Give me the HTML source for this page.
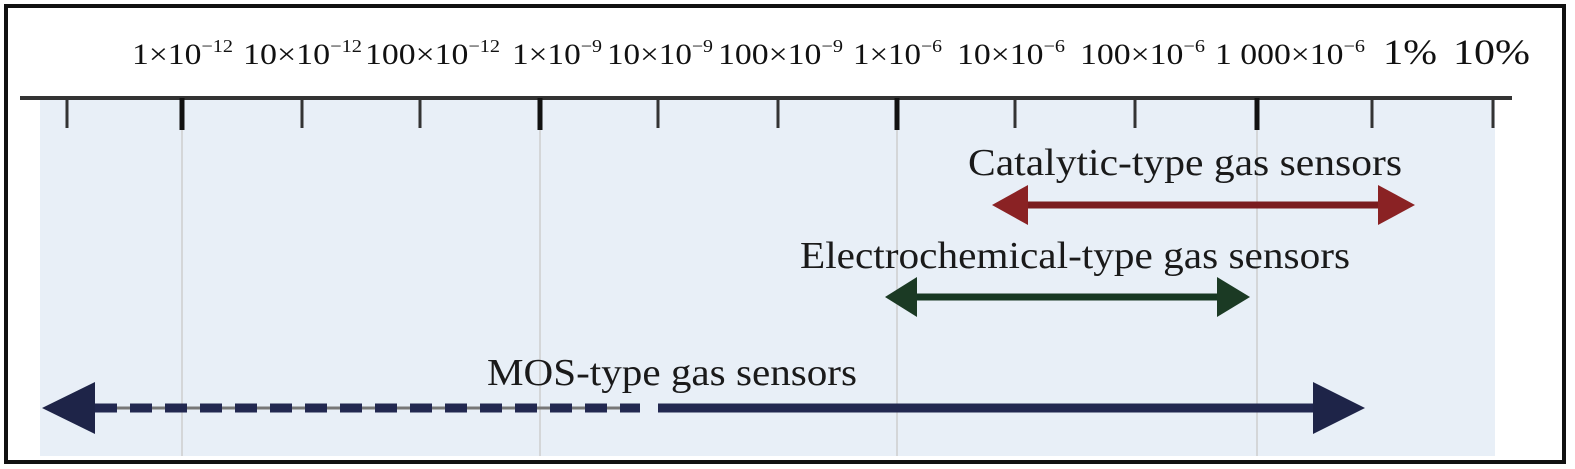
<!DOCTYPE html>
<html><head><meta charset="utf-8"><style>
html,body{margin:0;padding:0;background:#fff;}
svg{display:block;font-family:"Liberation Serif",serif;}
</style></head><body>
<svg width="1575" height="469" viewBox="0 0 1575 469" xmlns="http://www.w3.org/2000/svg">
<rect x="0" y="0" width="1575" height="469" fill="#fff"/>
<rect x="40" y="100" width="1455" height="356" fill="#e8eff7"/>
<g stroke="#d4d6d8" stroke-width="2">
<line x1="182" y1="100" x2="182" y2="456"/><line x1="540" y1="100" x2="540" y2="456"/>
<line x1="897" y1="100" x2="897" y2="456"/><line x1="1257" y1="100" x2="1257" y2="456"/>
</g>
<line x1="20" y1="98" x2="1512" y2="98" stroke="#333" stroke-width="4"/>
<g stroke="#333" stroke-width="3">
<line x1="67" y1="98" x2="67" y2="128"/><line x1="302" y1="98" x2="302" y2="128"/>
<line x1="420" y1="98" x2="420" y2="128"/><line x1="658" y1="98" x2="658" y2="128"/>
<line x1="778" y1="98" x2="778" y2="128"/><line x1="1015" y1="98" x2="1015" y2="128"/>
<line x1="1135" y1="98" x2="1135" y2="128"/><line x1="1372" y1="98" x2="1372" y2="128"/>
<line x1="1493" y1="98" x2="1493" y2="128"/>
</g>
<g stroke="#111" stroke-width="5">
<line x1="182" y1="98" x2="182" y2="130"/><line x1="540" y1="98" x2="540" y2="130"/>
<line x1="897" y1="98" x2="897" y2="130"/><line x1="1257" y1="98" x2="1257" y2="130"/>
</g>
<g font-size="30" fill="#111" lengthAdjust="spacingAndGlyphs">
<text x="132" y="64" textLength="101" lengthAdjust="spacingAndGlyphs">1×10<tspan font-size="18" dy="-12">−12</tspan></text>
<text x="243" y="64" textLength="119" lengthAdjust="spacingAndGlyphs">10×10<tspan font-size="18" dy="-12">−12</tspan></text>
<text x="365" y="64" textLength="135" lengthAdjust="spacingAndGlyphs">100×10<tspan font-size="18" dy="-12">−12</tspan></text>
<text x="512" y="64" textLength="90" lengthAdjust="spacingAndGlyphs">1×10<tspan font-size="18" dy="-12">−9</tspan></text>
<text x="607" y="64" textLength="106" lengthAdjust="spacingAndGlyphs">10×10<tspan font-size="18" dy="-12">−9</tspan></text>
<text x="718" y="64" textLength="125" lengthAdjust="spacingAndGlyphs">100×10<tspan font-size="18" dy="-12">−9</tspan></text>
<text x="853" y="64" textLength="89" lengthAdjust="spacingAndGlyphs">1×10<tspan font-size="18" dy="-12">−6</tspan></text>
<text x="957" y="64" textLength="108" lengthAdjust="spacingAndGlyphs">10×10<tspan font-size="18" dy="-12">−6</tspan></text>
<text x="1080" y="64" textLength="125" lengthAdjust="spacingAndGlyphs">100×10<tspan font-size="18" dy="-12">−6</tspan></text>
<text x="1215" y="64" textLength="150" lengthAdjust="spacingAndGlyphs">1 000×10<tspan font-size="18" dy="-12">−6</tspan></text>
<text x="1383" y="64" font-size="36" textLength="54" lengthAdjust="spacingAndGlyphs">1%</text>
<text x="1453" y="64" font-size="36" textLength="77" lengthAdjust="spacingAndGlyphs">10%</text>
</g>
<g font-size="38" fill="#1a1a1a">
<text x="968" y="175" textLength="434" lengthAdjust="spacingAndGlyphs">Catalytic-type gas sensors</text>
<text x="800" y="268" textLength="550" lengthAdjust="spacingAndGlyphs">Electrochemical-type gas sensors</text>
<text x="487" y="385" textLength="370" lengthAdjust="spacingAndGlyphs">MOS-type gas sensors</text>
</g>
<!-- catalytic -->
<line x1="1020" y1="205" x2="1390" y2="205" stroke="#7a1c1f" stroke-width="7"/>
<polygon points="992,205 1028,185 1028,225" fill="#8a2224"/>
<polygon points="1415,205 1378,185 1378,225" fill="#8a2224"/>
<!-- electrochemical -->
<line x1="910" y1="297" x2="1225" y2="297" stroke="#173823" stroke-width="7"/>
<polygon points="885,297 917,277 917,317" fill="#1b3a24"/>
<polygon points="1250,297 1217,277 1217,317" fill="#1b3a24"/>
<!-- MOS -->
<line x1="80" y1="408" x2="640" y2="408" stroke="#777" stroke-width="3"/>
<line x1="95" y1="408" x2="640" y2="408" stroke="#222850" stroke-width="9" stroke-dasharray="22,13"/>
<line x1="658" y1="408" x2="1320" y2="408" stroke="#222850" stroke-width="9"/>
<polygon points="42,408 95,382 95,434" fill="#1e2448"/>
<polygon points="1365,408 1313,382 1313,434" fill="#1e2448"/>
<rect x="6" y="6" width="1558" height="456" fill="none" stroke="#111" stroke-width="4"/>
</svg>
</body></html>
